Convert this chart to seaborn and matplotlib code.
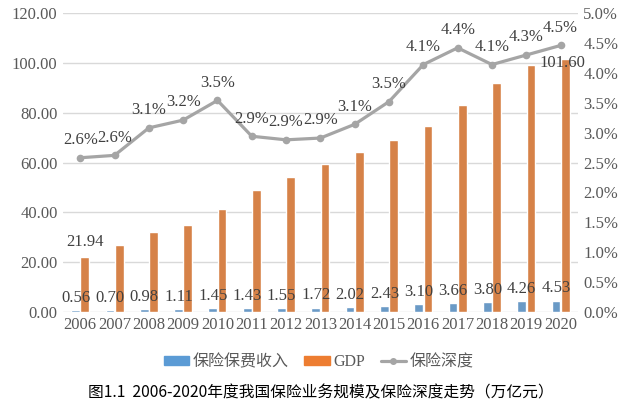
import numpy as np
import pandas as pd
import seaborn as sns
import matplotlib.pyplot as plt
from matplotlib.patches import Patch
from matplotlib.lines import Line2D

years = ['2006', '2007', '2008', '2009', '2010', '2011', '2012', '2013',
         '2014', '2015', '2016', '2017', '2018', '2019', '2020']
premium = [0.56, 0.70, 0.98, 1.11, 1.45, 1.43, 1.55, 1.72, 2.02, 2.43,
           3.10, 3.66, 3.80, 4.26, 4.53]
gdp = [21.94, 27.0, 32.0, 34.9, 41.3, 48.9, 54.0, 59.5, 64.4, 68.9,
       74.6, 83.2, 91.9, 99.1, 101.60]
depth = [2.58, 2.62, 3.08, 3.21, 3.54, 2.94, 2.88, 2.91, 3.14, 3.52,
         4.14, 4.42, 4.14, 4.30, 4.46]
depth_labels = ['2.6%', '2.6%', '3.1%', '3.2%', '3.5%', '2.9%', '2.9%', '2.9%',
                '3.1%', '3.5%', '4.1%', '4.4%', '4.1%', '4.3%', '4.5%']
series_names = ['保险保费收入', 'GDP', '保险深度']
caption = '图1.1  2006-2020年度我国保险业务规模及保险深度走势（万亿元）'

blue = '#5B9BD5'
orange = '#ED7D31'
grey = '#A5A5A5'
txt = '#404040'

sns.set_theme(style='white')
plt.rcParams['font.family'] = ['Liberation Serif', 'Noto Sans CJK SC']

df = pd.DataFrame({
    'year': years * 2,
    'value': premium + gdp,
    'series': [series_names[0]] * len(years) + [series_names[1]] * len(years),
})

fig = plt.figure(figsize=(6.37, 4.12), dpi=100)
ax = fig.add_axes([0.099, 0.243, 0.808, 0.725])

sns.barplot(data=df, x='year', y='value', hue='series',
            palette=[blue, orange], width=0.54, gap=0.06, legend=False, ax=ax)

ax.set_ylim(0, 120)
ax.set_yticks(np.arange(0, 121, 20))
ax.set_yticklabels([f'{v:.2f}' for v in np.arange(0, 121, 20)])
ax.grid(axis='y', color='#D9D9D9', linewidth=1)
ax.set_axisbelow(True)
ax.set_xlabel('')
ax.set_ylabel('')
ax.tick_params(length=0, labelsize=12, colors='#595959', pad=4)
for s in ax.spines.values():
    s.set_visible(False)

# bar value labels
blue_bars, orange_bars = ax.containers[0], ax.containers[1]
for bar, v in zip(blue_bars, premium):
    ax.annotate(f'{v:.2f}', (bar.get_x() + bar.get_width() / 2, bar.get_height()),
                xytext=(0, 3), textcoords='offset points', ha='center', va='bottom',
                fontsize=12, color=txt)
for i in (0, len(gdp) - 1):
    bar = orange_bars[i]
    if i == 0:
        ax.annotate(f'{gdp[i]:.2f}', (bar.get_x() + bar.get_width() / 2, bar.get_height()),
                    xytext=(0, 5), textcoords='offset points', ha='center', va='bottom',
                    fontsize=12, color=txt)
    else:
        ax.annotate(f'{gdp[i]:.2f}', (bar.get_x() + bar.get_width() / 2, bar.get_height()),
                    xytext=(-2, -3), textcoords='offset points', ha='center', va='center',
                    fontsize=12, color=txt)

ax2 = ax.twinx()
xpos = np.arange(len(years))
sns.lineplot(x=xpos, y=depth, color=grey, linewidth=2.3, marker='o',
             markersize=5.5, markeredgewidth=0, ax=ax2)
ax2.set_ylim(0, 5)
ax2.set_yticks(np.arange(0, 5.01, 0.5))
ax2.set_yticklabels([f'{v:.1f}%' for v in np.arange(0, 5.01, 0.5)])
ax2.tick_params(length=0, labelsize=12, colors='#595959', pad=4)
ax2.grid(False)
for s in ax2.spines.values():
    s.set_visible(False)
for x, y, lab in zip(xpos, depth, depth_labels):
    ax2.annotate(lab, (x, y), xytext=(0, 7), textcoords='offset points',
                 ha='center', va='bottom', fontsize=12, color=txt)
ax.set_xlim(-0.5, len(years) - 0.5)

handles = [Patch(color=blue), Patch(color=orange),
           Line2D([], [], color=grey, linewidth=2.3, marker='o', markersize=4)]
fig.legend(handles, series_names, loc='center', bbox_to_anchor=(0.5, 0.121),
           ncol=3, frameon=False, fontsize=11.5, handlelength=1.6, handleheight=0.5,
           columnspacing=1.0, handletextpad=0.2, labelcolor='#595959')

fig.text(0.503, 0.047, caption, ha='center', va='center', fontsize=11.3,
         family=['Noto Sans CJK SC'], color='black')

fig.savefig('out.png', dpi=100, facecolor='white')
